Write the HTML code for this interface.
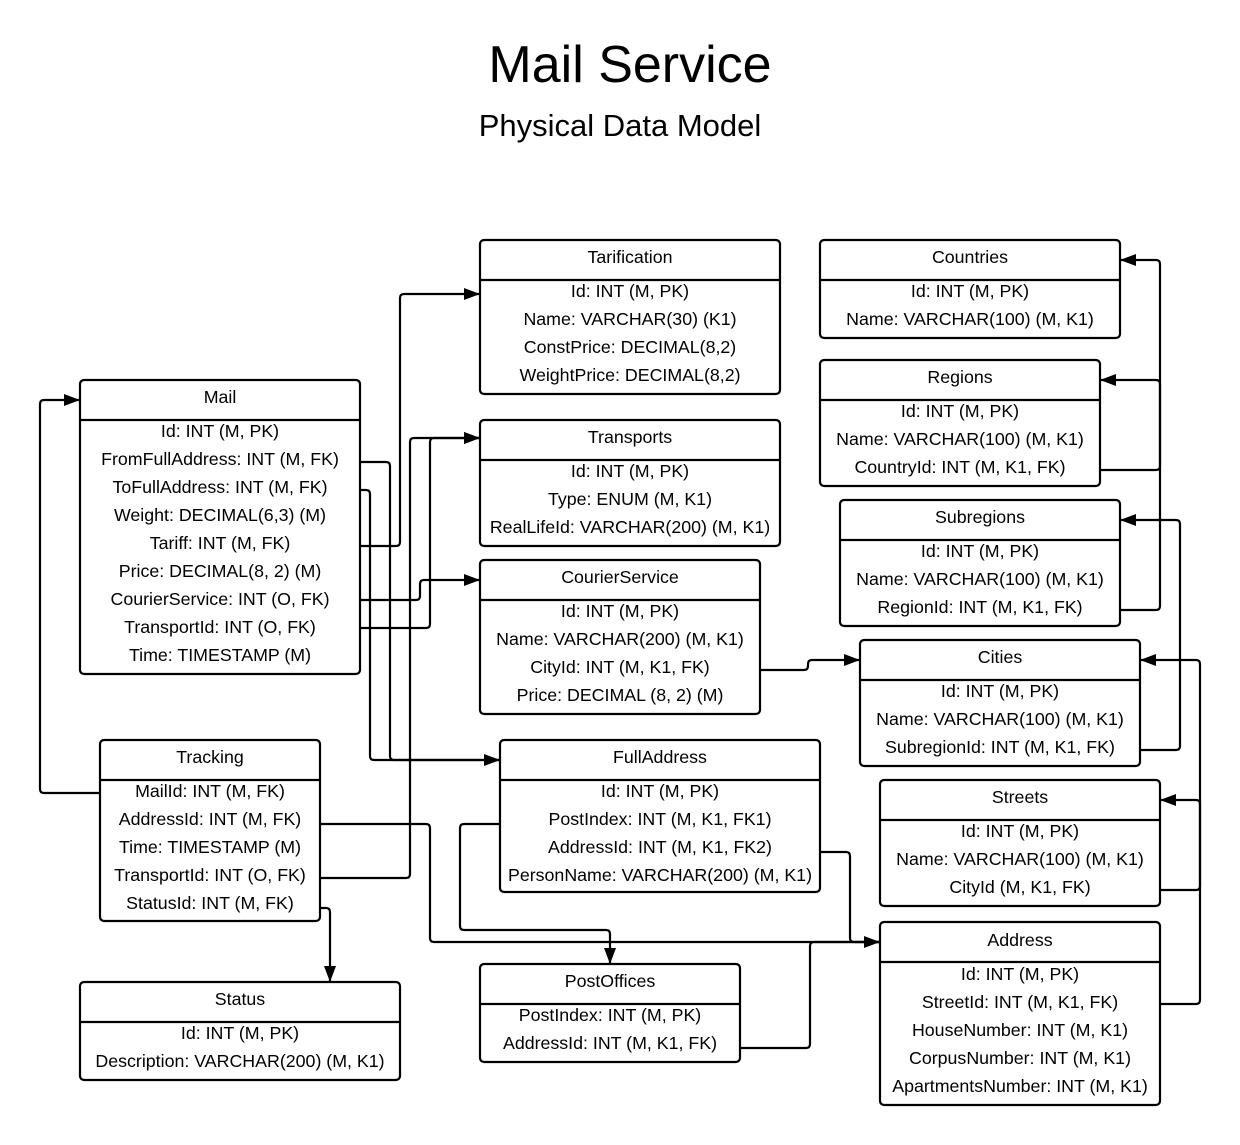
<!DOCTYPE html>
<html><head><meta charset="utf-8"><style>
html,body{margin:0;padding:0;background:#fff}
svg{display:block}
text{font-family:"Liberation Sans",sans-serif;fill:#000}
</style></head><body>
<svg width="1240" height="1145" viewBox="0 0 1240 1145" xmlns="http://www.w3.org/2000/svg">
<defs>
<marker id="a" viewBox="0 0 16 12" refX="16" refY="6" markerWidth="16" markerHeight="12" markerUnits="userSpaceOnUse" orient="auto">
<path d="M0,0 L16,6 L0,12 z" fill="#000"/>
</marker>
</defs>
<text x="630" y="82" font-size="52" text-anchor="middle">Mail Service</text>
<text x="620" y="136" font-size="31" text-anchor="middle">Physical Data Model</text>

<g fill="none" stroke="#000" stroke-width="2.2" stroke-linejoin="round">
<path d="M360,462 H386 Q390,462 390,466 V756 Q390,760 394,760 H500" marker-end="url(#a)"/>
<path d="M360,490 H366 Q370,490 370,494 V756 Q370,760 374,760 H500"/>
<path d="M360,546 H396 Q400,546 400,542 V298 Q400,294 404,294 H480" marker-end="url(#a)"/>
<path d="M360,600 H416 Q420,600 420,596 V584 Q420,580 424,580 H480" marker-end="url(#a)"/>
<path d="M360,628 H426 Q430,628 430,624 V442 Q430,438 434,438 H480" marker-end="url(#a)"/>
<path d="M320,878 H406 Q410,878 410,874 V442 Q410,438 414,438 H480" marker-end="url(#a)"/>
<path d="M100,793 H44 Q40,793 40,789 V404 Q40,400 44,400 H80" marker-end="url(#a)"/>
<path d="M320,824 H426 Q430,824 430,828 V938 Q430,942 434,942 H880" marker-end="url(#a)"/>
<path d="M320,908 H326 Q330,908 330,912 V982" marker-end="url(#a)"/>
<path d="M500,824 H464 Q460,824 460,828 V926 Q460,930 464,930 H606 Q610,930 610,934 V964" marker-end="url(#a)"/>
<path d="M820,852 H846 Q850,852 850,856 V938 Q850,942 854,942 H880"/>
<path d="M740,1048 H806 Q810,1048 810,1044 V946 Q810,942 814,942 H880"/>
<path d="M760,670 H804 Q808,670 808,666 V664 Q808,660 812,660 H860" marker-end="url(#a)"/>
<path d="M1100,470 H1156 Q1160,470 1160,466 V264 Q1160,260 1156,260 H1120" marker-end="url(#a)"/>
<path d="M1120,610 H1156 Q1160,610 1160,606 V384 Q1160,380 1156,380 H1100" marker-end="url(#a)"/>
<path d="M1140,750 H1176 Q1180,750 1180,746 V524 Q1180,520 1176,520 H1120" marker-end="url(#a)"/>
<path d="M1160,890 H1196 Q1200,890 1200,886 V664 Q1200,660 1196,660 H1140" marker-end="url(#a)"/>
<path d="M1160,1004 H1196 Q1200,1004 1200,1000 V804 Q1200,800 1196,800 H1160" marker-end="url(#a)"/>
</g>

<g fill="#fff" stroke="#000" stroke-width="2.2">
<rect x="480" y="240" width="300" height="154" rx="4"/><line x1="480" y1="280" x2="780" y2="280"/>
<rect x="820" y="240" width="300" height="98" rx="4"/><line x1="820" y1="280" x2="1120" y2="280"/>
<rect x="80" y="380" width="280" height="294" rx="4"/><line x1="80" y1="420" x2="360" y2="420"/>
<rect x="820" y="360" width="280" height="126" rx="4"/><line x1="820" y1="400" x2="1100" y2="400"/>
<rect x="480" y="420" width="300" height="126" rx="4"/><line x1="480" y1="460" x2="780" y2="460"/>
<rect x="840" y="500" width="280" height="126" rx="4"/><line x1="840" y1="540" x2="1120" y2="540"/>
<rect x="480" y="560" width="280" height="154" rx="4"/><line x1="480" y1="600" x2="760" y2="600"/>
<rect x="860" y="640" width="280" height="126" rx="4"/><line x1="860" y1="680" x2="1140" y2="680"/>
<rect x="100" y="740" width="220" height="181" rx="4"/><line x1="100" y1="780" x2="320" y2="780"/>
<rect x="500" y="740" width="320" height="152" rx="4"/><line x1="500" y1="780" x2="820" y2="780"/>
<rect x="880" y="780" width="280" height="126" rx="4"/><line x1="880" y1="820" x2="1160" y2="820"/>
<rect x="880" y="922" width="280" height="183" rx="4"/><line x1="880" y1="962" x2="1160" y2="962"/>
<rect x="480" y="964" width="260" height="98" rx="4"/><line x1="480" y1="1004" x2="740" y2="1004"/>
<rect x="80" y="982" width="320" height="98" rx="4"/><line x1="80" y1="1022" x2="400" y2="1022"/>
</g>

<g font-size="17.8" text-anchor="middle">
<text x="630" y="263">Tarification</text>
<text x="630" y="297">Id: INT  (M, PK)</text>
<text x="630" y="325">Name: VARCHAR(30) (K1)</text>
<text x="630" y="353">ConstPrice: DECIMAL(8,2)</text>
<text x="630" y="381">WeightPrice: DECIMAL(8,2)</text>

<text x="970" y="263">Countries</text>
<text x="970" y="297">Id: INT (M, PK)</text>
<text x="970" y="325">Name: VARCHAR(100) (M, K1)</text>

<text x="220" y="403">Mail</text>
<text x="220" y="437">Id: INT (M, PK)</text>
<text x="220" y="465">FromFullAddress: INT (M, FK)</text>
<text x="220" y="493">ToFullAddress: INT (M, FK)</text>
<text x="220" y="521">Weight: DECIMAL(6,3) (M)</text>
<text x="220" y="549">Tariff: INT (M, FK)</text>
<text x="220" y="577">Price: DECIMAL(8, 2) (M)</text>
<text x="220" y="605">CourierService: INT (O, FK)</text>
<text x="220" y="633">TransportId: INT (O, FK)</text>
<text x="220" y="661">Time: TIMESTAMP (M)</text>

<text x="960" y="383">Regions</text>
<text x="960" y="417">Id: INT (M, PK)</text>
<text x="960" y="445">Name: VARCHAR(100) (M, K1)</text>
<text x="960" y="473">CountryId: INT (M, K1, FK)</text>

<text x="630" y="443">Transports</text>
<text x="630" y="477">Id: INT (M, PK)</text>
<text x="630" y="505">Type: ENUM (M, K1)</text>
<text x="630" y="533">RealLifeId: VARCHAR(200) (M, K1)</text>

<text x="980" y="523">Subregions</text>
<text x="980" y="557">Id: INT (M, PK)</text>
<text x="980" y="585">Name: VARCHAR(100) (M, K1)</text>
<text x="980" y="613">RegionId: INT (M, K1, FK)</text>

<text x="620" y="583">CourierService</text>
<text x="620" y="617">Id: INT (M, PK)</text>
<text x="620" y="645">Name: VARCHAR(200) (M, K1)</text>
<text x="620" y="673">CityId: INT (M, K1, FK)</text>
<text x="620" y="701">Price: DECIMAL (8, 2) (M)</text>

<text x="1000" y="663">Cities</text>
<text x="1000" y="697">Id: INT (M, PK)</text>
<text x="1000" y="725">Name: VARCHAR(100) (M, K1)</text>
<text x="1000" y="753">SubregionId: INT (M, K1, FK)</text>

<text x="210" y="763">Tracking</text>
<text x="210" y="797">MailId: INT (M, FK)</text>
<text x="210" y="825">AddressId: INT (M, FK)</text>
<text x="210" y="853">Time: TIMESTAMP (M)</text>
<text x="210" y="881">TransportId: INT (O, FK)</text>
<text x="210" y="909">StatusId: INT (M, FK)</text>

<text x="660" y="763">FullAddress</text>
<text x="660" y="797">Id: INT (M, PK)</text>
<text x="660" y="825">PostIndex: INT (M, K1, FK1)</text>
<text x="660" y="853">AddressId: INT (M, K1, FK2)</text>
<text x="660" y="881">PersonName: VARCHAR(200) (M, K1)</text>

<text x="1020" y="803">Streets</text>
<text x="1020" y="837">Id: INT (M, PK)</text>
<text x="1020" y="865">Name: VARCHAR(100) (M, K1)</text>
<text x="1020" y="893">CityId (M, K1, FK)</text>

<text x="1020" y="946">Address</text>
<text x="1020" y="980">Id: INT (M, PK)</text>
<text x="1020" y="1008">StreetId: INT (M, K1, FK)</text>
<text x="1020" y="1036">HouseNumber: INT (M, K1)</text>
<text x="1020" y="1064">CorpusNumber: INT (M, K1)</text>
<text x="1020" y="1092">ApartmentsNumber: INT (M, K1)</text>

<text x="610" y="987">PostOffices</text>
<text x="610" y="1021">PostIndex: INT (M, PK)</text>
<text x="610" y="1049">AddressId: INT (M, K1, FK)</text>

<text x="240" y="1005">Status</text>
<text x="240" y="1039">Id: INT (M, PK)</text>
<text x="240" y="1067">Description: VARCHAR(200) (M, K1)</text>
</g>
</svg>
</body></html>
